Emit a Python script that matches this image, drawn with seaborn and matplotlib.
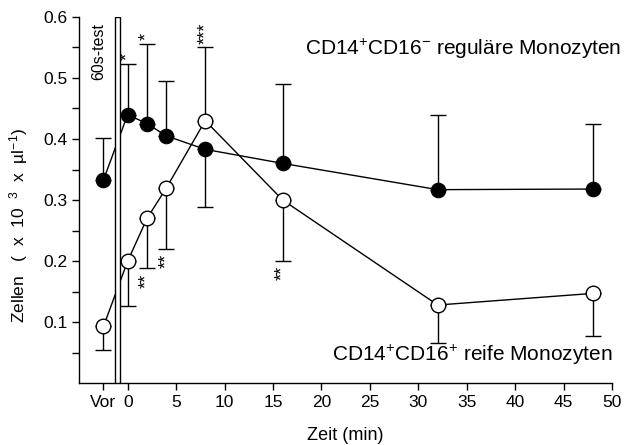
import numpy as np
import pandas as pd
import matplotlib
matplotlib.use("Agg")
import matplotlib.pyplot as plt
from matplotlib.patches import Rectangle
import seaborn as sns

# time points, "Vor" drawn at -2.5
zeit = [-2.5, 0, 2, 4, 8, 16, 32, 48]
regulaer = [0.333, 0.440, 0.425, 0.405, 0.383, 0.360, 0.317, 0.318]
regulaer_up = [0.068, 0.083, 0.130, 0.090, 0.0, 0.130, 0.123, 0.107]
regulaer_down = [0.0, 0.0, 0.0, 0.0, 0.095, 0.0, 0.0, 0.0]
reif = [0.093, 0.200, 0.270, 0.320, 0.430, 0.300, 0.128, 0.147]
reif_up = [0.0, 0.0, 0.0, 0.0, 0.120, 0.0, 0.0, 0.0]
reif_down = [0.038, 0.073, 0.082, 0.100, 0.0, 0.100, 0.063, 0.069]

xticks = [-2.5, 0, 5, 10, 15, 20, 25, 30, 35, 40, 45, 50]
xticklabels = ["Vor", "0", "5", "10", "15", "20", "25", "30", "35", "40", "45", "50"]

df = pd.DataFrame({
    "zeit": zeit * 2,
    "wert": regulaer + reif,
    "gruppe": ["reg"] * len(zeit) + ["reif"] * len(zeit),
})

sns.set_style("ticks")
plt.rcParams['font.family'] = ['Liberation Sans', 'DejaVu Sans']
plt.rcParams['mathtext.fontset'] = 'custom'
plt.rcParams['mathtext.rm'] = 'Liberation Sans'
plt.rcParams['mathtext.it'] = 'Liberation Sans:italic'
plt.rcParams['text.color'] = 'black'
plt.rcParams['axes.labelcolor'] = 'black'

fig = plt.figure(figsize=(6.24, 4.45), dpi=100)
ax = fig.add_axes([0.127, 0.139, 0.854, 0.823])

# error bars (one sided)
ax.errorbar(zeit, regulaer, yerr=[regulaer_down, regulaer_up], fmt="none",
            ecolor="black", elinewidth=1, capsize=5.5, capthick=1, zorder=1)
ax.errorbar(zeit, reif, yerr=[reif_down, reif_up], fmt="none",
            ecolor="black", elinewidth=1, capsize=5.5, capthick=1, zorder=1)

sns.lineplot(data=df[df.gruppe == "reg"], x="zeit", y="wert", ax=ax,
             color="black", lw=1, marker="o", markersize=10.5,
             markerfacecolor="black", markeredgecolor="black", zorder=3)
sns.lineplot(data=df[df.gruppe == "reif"], x="zeit", y="wert", ax=ax,
             color="black", lw=1, marker="o", markersize=10.5,
             markerfacecolor="white", markeredgecolor="black",
             markeredgewidth=1, zorder=3)

# 60s test bar
ax.add_patch(Rectangle((-1.3, 0), 0.5, 0.6, facecolor="white",
                       edgecolor="black", lw=1, zorder=4))
ax.text(-3.0, 0.59, "60s-test", rotation=90, ha="center", va="top", fontsize=11.5)

# significance stars
sterne = [(0, 0.530, "*"), (2, 0.562, "*"), (8, 0.556, "***"),
          (2, 0.180, "**"), (4, 0.212, "**"), (16, 0.192, "**")]
for x, y, s in sterne:
    va = "bottom" if y > 0.4 else "top"
    ax.text(x, y, s, rotation=90, ha="center", va=va, fontsize=13)

ax.text(50.9, 0.548, r"CD14$^{+}$CD16$^{-}$ reguläre Monozyten", ha="right",
        va="center", fontsize=15)
ax.text(50, 0.046, r"CD14$^{+}$CD16$^{+}$ reife Monozyten", ha="right",
        va="center", fontsize=15)

ax.set_xlim(-5, 50)
ax.set_ylim(0, 0.6)
ax.set_xticks(xticks)
ax.set_xticklabels(xticklabels)
ax.set_yticks([0.1, 0.2, 0.3, 0.4, 0.5, 0.6])
ax.set_yticks(np.arange(0.05, 0.6, 0.1), minor=True)
ax.tick_params(axis="both", which="major", labelsize=12.5, length=5, width=1,
               color="black", labelcolor="black")
ax.tick_params(axis="y", which="minor", length=5, width=1, color="black")
ax.set_xlabel("Zeit (min)", fontsize=13, labelpad=12)
ax.set_ylabel(r"Zellen   (  x  10  $^{3}$  x  µl$^{-1}$)", fontsize=12.5)
ax.yaxis.set_label_coords(-0.092, 0.43)
for sp in ["top", "right"]:
    ax.spines[sp].set_visible(False)
for sp in ["left", "bottom"]:
    ax.spines[sp].set_color("black")
    ax.spines[sp].set_linewidth(1)

fig.savefig("out.png", dpi=100)
